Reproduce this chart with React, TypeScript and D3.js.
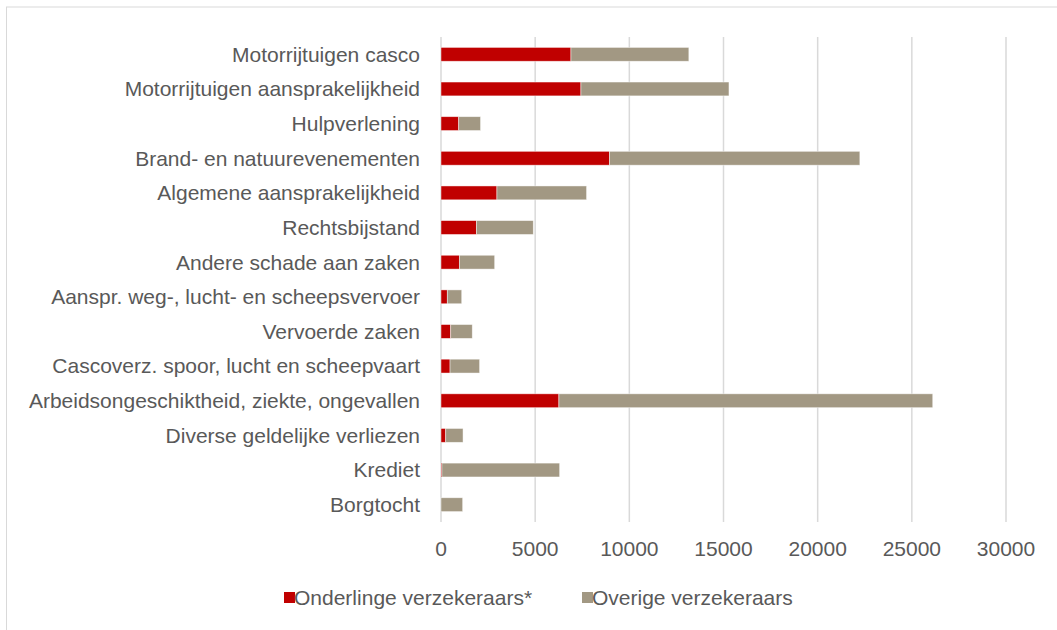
import React from 'react'
import * as d3 from 'd3'

const categories = [
  'Motorrijtuigen casco',
  'Motorrijtuigen aansprakelijkheid',
  'Hulpverlening',
  'Brand- en natuurevenementen',
  'Algemene aansprakelijkheid',
  'Rechtsbijstand',
  'Andere schade aan zaken',
  'Aanspr. weg-, lucht- en scheepsvervoer',
  'Vervoerde zaken',
  'Cascoverz. spoor, lucht en scheepvaart',
  'Arbeidsongeschiktheid, ziekte, ongevallen',
  'Diverse geldelijke verliezen',
  'Krediet',
  'Borgtocht',
]

// Onderlinge verzekeraars*
const onderlinge = [6900, 7430, 940, 8950, 2970, 1880, 975, 335, 515, 480, 6260, 250, 50, 0]
// Overige verzekeraars
const overige = [6260, 7860, 1160, 13290, 4760, 3020, 1875, 765, 1145, 1570, 19850, 920, 6250, 1150]

const xTicks = [0, 5000, 10000, 15000, 20000, 25000, 30000]

const seriesNames = ['Onderlinge verzekeraars*', 'Overige verzekeraars']
const seriesColors = ['#C00000', '#A29883']

const W = 1057
const H = 630
const FONT = '"Liberation Sans", Arial, sans-serif'
const TEXT = '#595959'
const GRID = '#D9D9D9'

export default function App() {
  const margin = { left: 441, right: 51, top: 37, bottom: 108 }

  const x = d3.scaleLinear()
    .domain([0, 30000])
    .range([margin.left, W - margin.right])

  const y = d3.scaleBand()
    .domain(categories)
    .range([margin.top, H - margin.bottom])
    .paddingInner(0.6)
    .paddingOuter(0.3)

  const rows = categories.map((c, i) => ({ cat: c, values: [onderlinge[i], overige[i]] }))
  const stack = d3.stack<any>()
    .keys(['0', '1'])
    .value((d, k) => d.values[+k])
  const layers = stack(rows)

  const plotBottom = H - margin.bottom

  return (
    <svg width={W} height={H} style={{ position: 'absolute', left: 0, top: 0, display: 'block' }}
      fontFamily={FONT}>
      <rect x={0} y={0} width={W} height={H} fill="#fff" />
      <rect x={6.5} y={7} width={W + 10} height={H + 10} fill="none" stroke={GRID} strokeWidth={1} />

      {/* gridlines */}
      {xTicks.map(t => (
        <line key={t} x1={x(t)} x2={x(t)} y1={margin.top} y2={plotBottom}
          stroke={GRID} strokeWidth={1.5} />
      ))}

      {/* bars */}
      {layers.map((layer, li) => (
        <g key={li} fill={seriesColors[li]}>
          {layer.map((d, i) => {
            const w = x(d[1]) - x(d[0])
            if (w <= 0) return null
            return (
              <rect key={i} x={x(d[0])} y={y(categories[i])} width={w} height={y.bandwidth()}
                stroke="#fff" strokeOpacity={0.6} strokeWidth={0.75} />
            )
          })}
        </g>
      ))}

      {/* category labels */}
      {categories.map(c => (
        <text key={c} x={margin.left - 21} y={(y(c) as number) + y.bandwidth() / 2}
          dy="0.35em" textAnchor="end" fontSize={21} fill={TEXT}>{c}</text>
      ))}

      {/* x tick labels */}
      {xTicks.map(t => (
        <text key={t} x={x(t)} y={plotBottom + 34} textAnchor="middle"
          fontSize={21} fill={TEXT}>{t}</text>
      ))}

      {/* legend */}
      <g transform="translate(284, 598)">
        {seriesNames.map((n, i) => (
          <g key={n} transform={`translate(${i === 0 ? 0 : 298}, 0)`}>
            <rect x={0} y={-6} width={11} height={11} fill={seriesColors[i]} />
            <text x={10} y={0} dy="0.35em" fontSize={21} fill={TEXT}>{n}</text>
          </g>
        ))}
      </g>
    </svg>
  )
}
